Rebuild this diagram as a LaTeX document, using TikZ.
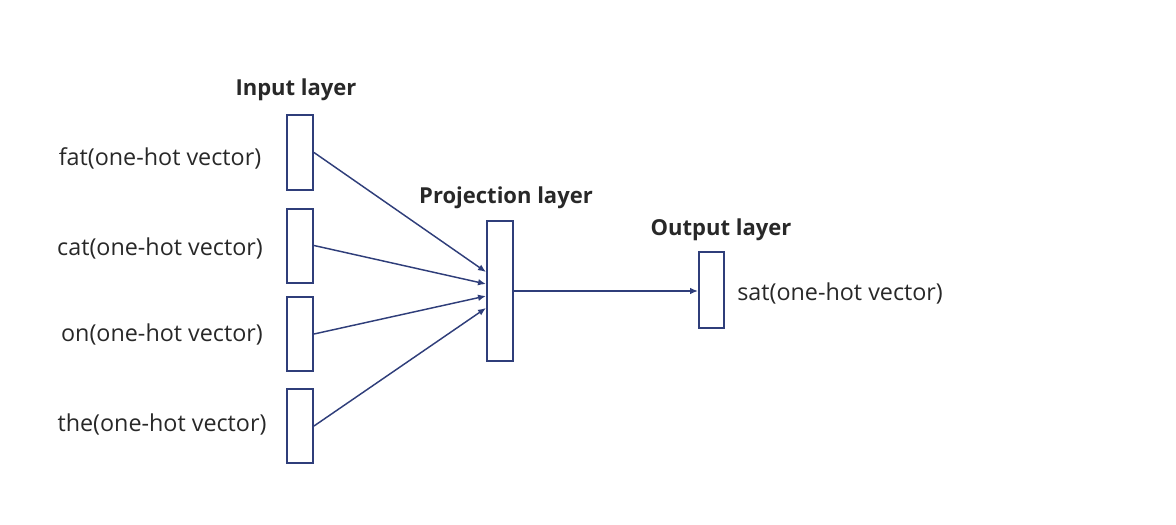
\documentclass[tikz,border=0pt]{standalone}
\usepackage{fontspec}
\setmainfont{Open Sans}
\usetikzlibrary{calc,arrows.meta}
\definecolor{navy}{RGB}{47,62,122}
\definecolor{txt}{RGB}{40,40,40}
\begin{document}
\begin{tikzpicture}[x=0.75pt,y=-0.75pt,
  box/.style={draw=navy,line width=1.5pt,fill=white,inner sep=0pt,minimum width=19.5pt},
  inbox/.style={box,minimum height=55.5pt},
  lbl/.style={text=txt,font=\fontsize{17.5pt}{20pt}\selectfont,inner sep=0pt},
  ttl/.style={text=txt,font=\bfseries\fontsize{16.5pt}{20pt}\selectfont,inner sep=0pt},
  conn/.style={draw=navy,line width=1.1pt,-{Latex[length=6pt,width=5pt]}}]
\useasboundingbox (0,0) rectangle (1176,524);
\node[inbox] (in1) at (300,152.5) {};
\node[inbox] (in2) at (300,245.5) {};
\node[inbox] (in3) at (300,334) {};
\node[inbox] (in4) at (300,426) {};
\node[box,minimum height=105pt] (proj) at (500,291) {};
\node[box,minimum width=18.75pt,minimum height=57pt] (out) at (711.5,290) {};
\node[lbl] (l1) at (160,158) {fat(one-hot vector)};
\node[lbl] (l2) at (160,248) {cat(one-hot vector)};
\node[lbl] (l3) at (162,334) {on(one-hot vector)};
\node[lbl] (l4) at (162,424) {the(one-hot vector)};
\node[lbl,anchor=west] (l5) at (737,293) {sat(one-hot vector)};
\node[ttl] (t1) at (296,90) {Input layer};
\node[ttl] (t2) at (506,198) {Projection layer};
\node[ttl] (t3) at (721,230) {Output layer};
\draw[conn] (in1.east) -- ($(proj.west)+(0,-19)$);
\draw[conn] (in2.east) -- ($(proj.west)+(0,-7)$);
\draw[conn] (in3.east) -- ($(proj.west)+(0,5)$);
\draw[conn] (in4.east) -- ($(proj.west)+(0,17)$);
\draw[conn] (proj.east) -- (proj.east -| out.west);
\end{tikzpicture}
\end{document}
